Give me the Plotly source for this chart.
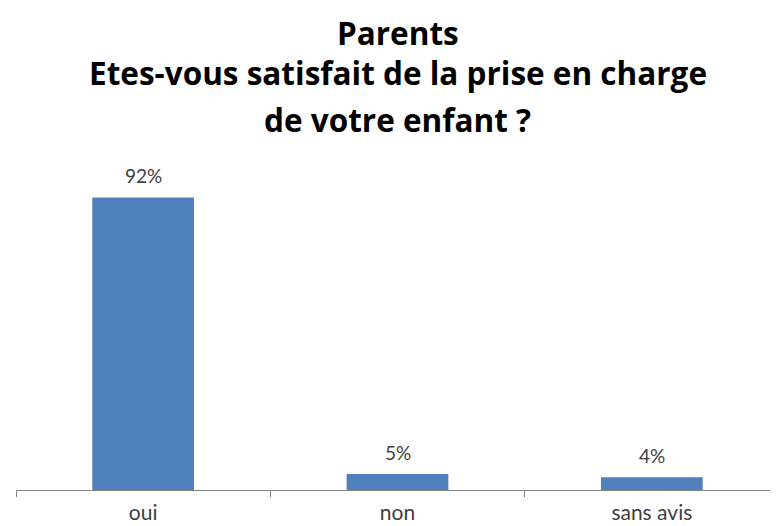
import plotly.graph_objects as go

CATEGORIES = ["oui", "non", "sans avis"]
SHARES = [0.92, 0.05, 0.04]
TITLE_LINES = ["Parents", "Etes-vous satisfait de la prise en charge", "de votre enfant ?"]

BLUE = "#4F81BD"
AXIS_GREY = "#868686"
TEXT_GREY = "#404040"
FONT = "Lato"
TITLE_FONT = "Open Sans"

fig = go.Figure(go.Bar(
    x=CATEGORIES, y=SHARES,
    marker=dict(color=BLUE, line=dict(width=0)),
    width=0.4,
    hoverinfo="skip",
))

# value labels above each bar
annotations = [
    dict(x=c, y=v, text=f"{round(v * 100)}%", showarrow=False, yanchor="middle", yshift=22,
         font=dict(family=FONT, size=19, color=TEXT_GREY))
    for c, v in zip(CATEGORIES, SHARES)
]

# three-line title, positioned by hand to match the line spacing
for line, ypos in zip(TITLE_LINES, [1.44, 1.314, 1.166]):
    annotations.append(dict(
        x=0.5, y=ypos, xref="paper", yref="paper", text=f"<b>{line}</b>", showarrow=False,
        yanchor="middle", font=dict(family=TITLE_FONT, size=31.5, color="#000000"),
    ))

# page body adds an 8px offset, so margins are trimmed to compensate
fig.update_layout(
    width=778, height=526,
    margin=dict(l=8, r=7, t=164, b=44),
    paper_bgcolor="white", plot_bgcolor="white",
    showlegend=False,
    annotations=annotations,
    xaxis=dict(
        showline=True, linecolor=AXIS_GREY, linewidth=1,
        ticks="outside", tickson="boundaries", ticklen=6, tickcolor=AXIS_GREY,
        showgrid=False, zeroline=False, ticklabelstandoff=4,
        tickfont=dict(family=FONT, size=21, color=TEXT_GREY),
    ),
    yaxis=dict(range=[0, 1], visible=False, showgrid=False, zeroline=False),
)

fig.write_html("out.html")
